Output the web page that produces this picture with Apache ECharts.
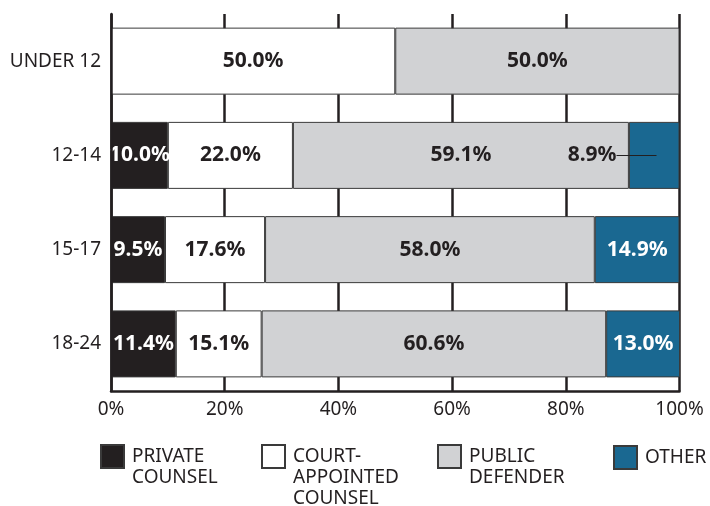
<!DOCTYPE html>
<html>
<head>
<meta charset="utf-8">
<script src="https://cdn.jsdelivr.net/npm/echarts@6/dist/echarts.min.js"></script>
<style>
  html, body { margin: 0; padding: 0; background: #ffffff; }
  #chart { width: 710px; height: 506px; }
</style>
</head>
<body>
<div id="chart"></div>
<script>
// Age groups (rows, top to bottom)
const categories = ['UNDER 12', '12-14', '15-17', '18-24'];

// Type of counsel, share of cases in each age group (%)
const seriesNames = ['PRIVATE\nCOUNSEL', 'COURT-\nAPPOINTED\nCOUNSEL', 'PUBLIC\nDEFENDER', 'OTHER'];
const privateCounsel = [0, 10.0, 9.5, 11.4];
const courtAppointed = [50.0, 22.0, 17.6, 15.1];
const publicDefender = [50.0, 59.1, 58.0, 60.6];
const otherCounsel = [0, 8.9, 14.9, 13.0];

// Percentage ticks along the bottom axis
const xTicks = [0, 20, 40, 60, 80, 100];

// Segment whose label sits outside with a leader line
const callout = { series: 3, category: '12-14' };

const INK = '#231f20';
const FONT = '"Noto Sans", "DejaVu Sans", sans-serif';
const fills = ['#231f20', '#ffffff', '#d1d2d4', '#1a6891'];
const labelColors = ['#ffffff', INK, INK, '#ffffff'];
const values = [privateCounsel, courtAppointed, publicDefender, otherCounsel];

const fmt = v => v.toFixed(1) + '%';

const series = values.map((arr, si) => ({
  name: seriesNames[si],
  type: 'bar',
  stack: 'total',
  barWidth: 67,
  itemStyle: { color: fills[si], borderColor: '#3a3a3a', borderWidth: 1 },
  label: {
    show: true,
    position: 'inside',
    color: labelColors[si],
    fontFamily: FONT,
    fontSize: 21,
    fontWeight: 'bold',
    formatter: p => fmt(p.value)
  },
  data: arr.map((v, ci) => {
    if (v === 0) return '-';
    if (si === callout.series && categories[ci] === callout.category) {
      return {
        value: v,
        label: {
          position: 'insideRight',
          distance: 23,
          formatter: '{v|' + fmt(v) + '}{ln|}',
          rich: {
            v: { color: INK, fontFamily: FONT, fontSize: 21, fontWeight: 'bold' },
            ln: { width: 40, height: 1, backgroundColor: INK }
          }
        }
      };
    }
    return v;
  })
}));

// One legend block per series; blank leading lines keep each icon
// level with the first line of its (vertically centred) text
const legendLeft = [100, 261, 437, 613];
const legendTop = 445;
const iconSize = 23;
const lineH = 21;
const legends = seriesNames.map((name, i) => {
  const n = name.split('\n').length;
  const textTop = iconSize / 2 - ((2 * n - 1) * lineH) / 2;
  return {
    data: [name],
    left: legendLeft[i],
    top: legendTop + Math.min(0, textTop),
    padding: 0,
    icon: 'rect',
    itemWidth: iconSize,
    itemHeight: iconSize,
    selectedMode: false,
    formatter: nm => '\n'.repeat(n - 1) + nm,
    textStyle: {
      fontFamily: FONT,
      fontSize: 19,
      color: INK,
      lineHeight: lineH,
      padding: [0, 0, 0, 3]
    }
  };
});

const chart = echarts.init(document.getElementById('chart'), null, { renderer: 'canvas' });
chart.setOption({
  animation: false,
  backgroundColor: '#ffffff',
  grid: { left: 111, right: 30.5, top: 14, bottom: 115, containLabel: false },
  legend: legends,
  xAxis: {
    type: 'value',
    min: xTicks[0],
    max: xTicks[xTicks.length - 1],
    interval: xTicks[1] - xTicks[0],
    axisLine: { show: true, lineStyle: { color: INK, width: 2.5 } },
    axisTick: { show: false },
    splitLine: { show: true, lineStyle: { color: INK, width: 2.5 } },
    axisLabel: {
      margin: 9,
      color: INK,
      fontFamily: FONT,
      fontSize: 19,
      formatter: '{value}%'
    }
  },
  yAxis: {
    type: 'category',
    data: categories,
    inverse: true,
    z: 3,
    axisLine: { show: true, lineStyle: { color: INK, width: 2.5 } },
    axisTick: { show: false },
    splitLine: { show: false },
    axisLabel: { margin: 10, color: INK, fontFamily: FONT, fontSize: 19 }
  },
  series: series
});
</script>
</body>
</html>
